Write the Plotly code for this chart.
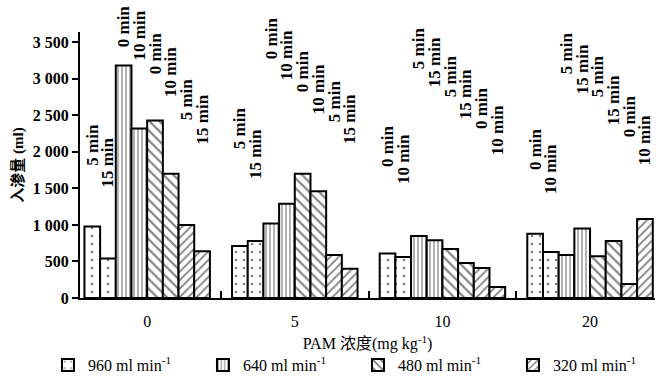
import plotly.graph_objects as go

# ---------------- data ----------------
groups = ["0", "5", "10", "20"]  # PAM concentration (mg kg-1)
rates = ["960 ml min<sup>-1</sup>", "640 ml min<sup>-1</sup>",
         "480 ml min<sup>-1</sup>", "320 ml min<sup>-1</sup>"]

# infiltration volume (ml); two bars per flow rate in every group
v960_a = [980, 710, 610, 880]
v960_b = [540, 780, 560, 630]
v640_a = [3180, 1020, 850, 590]
v640_b = [2320, 1290, 790, 950]
v480_a = [2430, 1700, 670, 570]
v480_b = [1700, 1460, 480, 780]
v320_a = [1000, 590, 410, 190]
v320_b = [640, 400, 150, 1080]

# time labels written above each bar
t960_a = ["5 min", "5 min", "0 min", "0 min"]
t960_b = ["15 min", "15 min", "10 min", "10 min"]
t640_a = ["0 min", "0 min", "5 min", "5 min"]
t640_b = ["10 min", "10 min", "15 min", "15 min"]
t480_a = ["0 min", "0 min", "5 min", "5 min"]
t480_b = ["10 min", "10 min", "15 min", "15 min"]
t320_a = ["5 min", "5 min", "0 min", "0 min"]
t320_b = ["15 min", "15 min", "10 min", "10 min"]

y_tick_vals = [0, 500, 1000, 1500, 2000, 2500, 3000, 3500]
y_tick_text = ["0", "500", "1 000", "1 500", "2 000", "2 500", "3 000", "3 500"]

# ---------------- layout / style ----------------
series_values = [v960_a, v960_b, v640_a, v640_b, v480_a, v480_b, v320_a, v320_b]
series_times = [t960_a, t960_b, t640_a, t640_b, t480_a, t480_b, t320_a, t320_b]

# staggered heights (axis units) at which the rotated time labels start
label_start = [
    [1770, 1996, 1750, 1709],
    [1470, 1586, 1518, 1381],
    [3390, 3227, 3090, 3022],
    [3210, 2940, 2844, 2748],
    [3020, 2775, 2707, 2707],
    [2710, 2475, 2406, 2324],
    [2390, 2365, 2270, 2160],
    [2060, 2065, 1914, 1777],
]

patterns = [
    dict(shape=".", size=8, solidity=0.08),
    dict(shape=".", size=8, solidity=0.08),
    dict(shape="|", size=4, solidity=0.3),
    dict(shape="|", size=4, solidity=0.3),
    dict(shape="\\", size=7, solidity=0.3),
    dict(shape="\\", size=7, solidity=0.3),
    dict(shape="/", size=6, solidity=0.3),
    dict(shape="/", size=6, solidity=0.3),
]

SERIF = "Liberation Serif, Noto Sans CJK SC, serif"

fig = go.Figure()

for k, vals in enumerate(series_values):
    rate = rates[k // 2]
    pat = dict(patterns[k])
    pat.update(fgcolor="black", bgcolor="white")
    fig.add_trace(go.Bar(
        x=groups, y=vals, name=rate, legendgroup=rate,
        showlegend=(k % 2 == 0), offsetgroup=str(k),
        marker=dict(color="white", pattern=pat,
                    line=dict(color="black", width=2)),
    ))

STEM = 20
for k, times in enumerate(series_times):
    fig.add_trace(go.Bar(
        x=groups, y=[STEM] * len(groups),
        base=[h - STEM for h in label_start[k]],
        offsetgroup=str(k), showlegend=False, hoverinfo="skip",
        marker=dict(color="rgba(0,0,0,0)", line=dict(width=0)),
        text=times, textposition="outside", textangle=-90,
        constraintext="none", cliponaxis=False,
        textfont=dict(family=SERIF, size=17, color="black", weight="bold"),
    ))

fig.update_layout(
    width=658, height=388,
    margin=dict(l=80, r=3, t=32, b=90, autoexpand=False),
    paper_bgcolor="white", plot_bgcolor="white",
    barmode="group", bargap=0.15, bargroupgap=0,
    font=dict(family=SERIF, color="black"),
    legend=dict(orientation="h", x=-0.0557, xanchor="left", y=-0.252, yanchor="middle",
                entrywidth=110, entrywidthmode="pixels", itemwidth=30,
                font=dict(family=SERIF, size=16, color="black"),
                bgcolor="rgba(0,0,0,0)"),
    xaxis=dict(type="category", range=[-0.455, 3.44], automargin=False,
               showline=True, linecolor="black", linewidth=2,
               ticks="inside", tickson="boundaries", ticklen=7, tickwidth=1.5,
               tickcolor="black", showgrid=False, zeroline=False,
               ticklabelstandoff=8,
               tickfont=dict(family=SERIF, size=16, color="black"),
               title=dict(text="PAM 浓度(mg kg<sup>-1</sup>)", standoff=9,
                          font=dict(family=SERIF, size=16, color="black"))),
    yaxis=dict(range=[0, 3640], tickvals=y_tick_vals, ticktext=y_tick_text,
               automargin=False,
               showline=True, linecolor="black", linewidth=2,
               ticks="outside", ticklen=6, tickwidth=2, tickcolor="black",
               showgrid=False, zeroline=False,
               tickfont=dict(family=SERIF, size=16, color="black", weight="bold"),
               title=dict(text="入渗量 (ml)", standoff=6,
                          font=dict(family=SERIF, size=15, color="black", weight="bold"))),
)

fig.write_html("out.html", config={"displayModeBar": False},
               post_script="document.body.style.margin='0';")
